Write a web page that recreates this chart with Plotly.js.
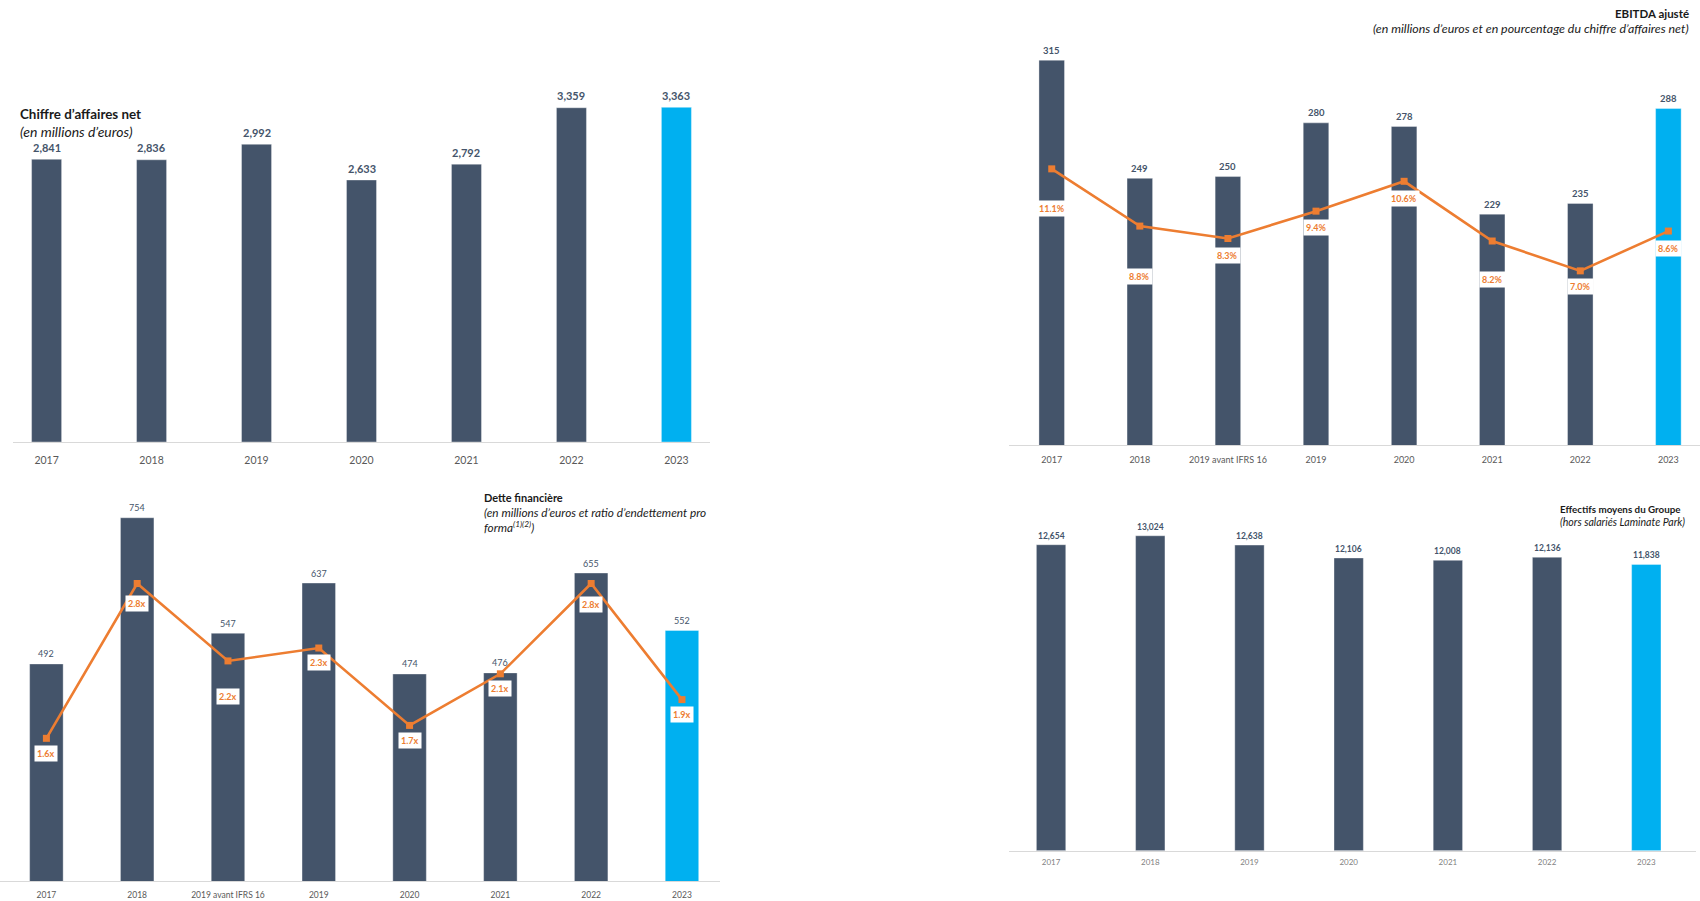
<!DOCTYPE html>
<html><head><meta charset="utf-8">
<script src="https://cdn.plot.ly/plotly-3.0.1.min.js"></script>
<style>html,body{margin:0;padding:0;background:#fff}#chart{width:1700px;height:901px}</style>
</head><body><div id="chart"></div>
<script>
// ---- Data ----
const caYears = ['2017','2018','2019','2020','2021','2022','2023'];
const caValues = [2841, 2836, 2992, 2633, 2792, 3359, 3363];

const ebitdaCats = ['2017','2018','2019 avant IFRS 16','2019','2020','2021','2022','2023'];
const ebitdaValues = [315, 249, 250, 280, 278, 229, 235, 288];
const ebitdaMargin = [11.1, 8.8, 8.3, 9.4, 10.6, 8.2, 7.0, 8.6];

const detteCats = ['2017','2018','2019 avant IFRS 16','2019','2020','2021','2022','2023'];
const detteValues = [492, 754, 547, 637, 474, 476, 655, 552];
const detteRatio = [1.6, 2.8, 2.2, 2.3, 1.7, 2.1, 2.8, 1.9];

const effYears = ['2017','2018','2019','2020','2021','2022','2023'];
const effValues = [12654, 13024, 12638, 12106, 12008, 12136, 11838];

// label offsets below markers (px) - styling only
const ebitdaLabelDrop = [40, 50, 17, 16, 17, 38, 16, 17];
const detteLabelDrop = [15, 20, 36, 14, 15, 15, 21, 15];

// ---- Style ----
const W = 1700, H = 901;
const px = x => x / W;
const py = y => 1 - y / H;
const SLATE = '#44546A', BLUE = '#00B0F0', ORANGE = '#ED7D31';
const FONT = 'Lato, "Liberation Sans", Arial, sans-serif';
const colorsFor = arr => arr.map((_, i) => i === arr.length - 1 ? BLUE : SLATE);
const fmt = v => v.toLocaleString('en-US');

const barTrace = (cats, vals, xa, ya, w) => ({
  type: 'bar', x: cats, y: vals, xaxis: xa, yaxis: ya, width: w,
  marker: {color: colorsFor(cats), line: {color: 'rgba(255,255,255,0.6)', width: 0.6}},
  hoverinfo: 'skip'
});
const lineTrace = (cats, vals, xa, ya) => ({
  type: 'scatter', mode: 'lines+markers', x: cats, y: vals, xaxis: xa, yaxis: ya,
  line: {color: ORANGE, width: 2.6}, marker: {symbol: 'square', size: 7, color: ORANGE},
  hoverinfo: 'skip'
});

const traces = [
  barTrace(caYears, caValues, 'x', 'y', 0.286),
  barTrace(ebitdaCats, ebitdaValues, 'x2', 'y2', 0.29),
  lineTrace(ebitdaCats, ebitdaMargin, 'x2', 'y3'),
  barTrace(detteCats, detteValues, 'x3', 'y4', 0.369),
  lineTrace(detteCats, detteRatio, 'x3', 'y5'),
  barTrace(effYears, effValues, 'x4', 'y6', 0.296)
];

const xAxis = (domain, range, anchor, fsize, tlen, color) => ({
  type: 'category', domain, range, anchor, showgrid: false, zeroline: false,
  showline: true, linecolor: '#D9D9D9', linewidth: 1,
  ticks: 'outside', ticklen: tlen, tickcolor: 'rgba(0,0,0,0)',
  tickfont: {family: FONT, size: fsize, color: color || '#595959'}, fixedrange: true
});
const yAxis = (domain, range, anchor, extra) => Object.assign({
  domain, range, anchor, visible: false, showgrid: false, zeroline: false, fixedrange: true
}, extra || {});

const ann = [];
function valueLabels(vals, xref, yref, shift, size, bold) {
  vals.forEach((v, i) => ann.push({
    x: i, y: v, xref, yref, showarrow: false, yanchor: 'middle', yshift: shift,
    text: bold ? '<b>' + fmt(v) + '</b>' : fmt(v),
    font: {family: FONT, size, color: SLATE}
  }));
}
function lineLabels(vals, xref, yref, drops, suffix, size) {
  vals.forEach((v, i) => ann.push({
    x: i, y: v, xref, yref, showarrow: false, yanchor: 'middle', yshift: -drops[i],
    text: '<b>' + v.toFixed(1) + suffix + '</b>', bgcolor: '#FFFFFF', borderpad: 2,
    font: {family: FONT, size, color: ORANGE}
  }));
}
function title(text, x, y, xanchor, size, color) {
  ann.push({text, x: px(x), y: py(y), xref: 'paper', yref: 'paper', xanchor, yanchor: 'middle',
    showarrow: false, align: xanchor, font: {family: FONT, size, color: color || '#1A1A1A'}});
}

valueLabels(caValues, 'x', 'y', 12, 11, true);
valueLabels(ebitdaValues, 'x2', 'y2', 10, 9.5, true);
lineLabels(ebitdaMargin, 'x2', 'y3', ebitdaLabelDrop, '%', 9);
valueLabels(detteValues, 'x3', 'y4', 10, 9, false);
lineLabels(detteRatio, 'x3', 'y5', detteLabelDrop, 'x', 9);
valueLabels(effValues, 'x4', 'y6', 9, 8.5, true);

title('<b>Chiffre d’affaires net</b>', 18, 114, 'left', 13.4);
title('<i>(en millions d’euros)</i>', 18, 131, 'left', 14);
title('<b>EBITDA ajusté</b>', 1691, 14, 'right', 11.5);
title('<i>(en millions d’euros et en pourcentage du chiffre d’affaires net)</i>', 1691, 28.5, 'right', 12.4);
title('<b>Dette financière</b>', 482, 497, 'left', 11);
title('<i>(en millions d’euros et ratio d’endettement pro</i>', 482, 512, 'left', 11.8);
title('<i>forma<sup>(1)(2)</sup>)</i>', 482, 527, 'left', 11.8);
title('<b>Effectifs moyens du Groupe</b>', 1558, 509, 'left', 9.8);
title('<i>(hors salariés Laminate Park)</i>', 1558, 522, 'left', 10.6);

const layout = {
  width: W, height: H, margin: {l: 0, r: 0, t: 0, b: 0, pad: 0},
  paper_bgcolor: '#FFFFFF', plot_bgcolor: 'rgba(0,0,0,0)', showlegend: false,
  font: {family: FONT},
  // Chart 1
  xaxis: xAxis([px(13), px(710)], [-0.32, 6.32], 'y', 10.5, 8),
  yaxis: yAxis([py(442), py(60)], [0, 3839], 'x'),
  // Chart 2
  xaxis2: xAxis([px(1009), 1], [-0.485, 7.359], 'y2', 9, 6),
  yaxis2: yAxis([py(445), py(40)], [100, 326.3], 'x2'),
  yaxis3: yAxis([py(445), py(40)], [0, 16.28], 'x2', {overlaying: 'y2', side: 'right'}),
  // Chart 3
  xaxis3: xAxis([0, px(720)], [-0.511, 7.419], 'y4', 8.5, 6),
  yaxis4: yAxis([py(881), py(470)], [103, 839.6], 'x3'),
  yaxis5: yAxis([py(881), py(470)], [0.494, 3.680], 'x3', {overlaying: 'y4', side: 'right'}),
  // Chart 4
  xaxis4: xAxis([px(1009), px(1696)], [-0.424, 6.501], 'y6', 8, 4, '#7F7F7F'),
  yaxis6: yAxis([py(850.7), py(470)], [0, 15744], 'x4'),
  annotations: ann
};

Plotly.newPlot('chart', traces, layout, {displayModeBar: false, staticPlot: true});
</script>
</body></html>
